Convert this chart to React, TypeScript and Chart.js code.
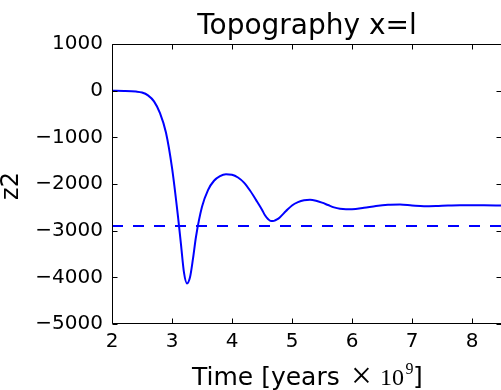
import React, { useEffect, useRef } from "react";
import { Chart, registerables } from "chart.js";

Chart.register(...registerables);

// Time axis (years × 10^9) and topography z2 values
const timeValues = [
  2.0, 2.2, 2.4, 2.5, 2.6, 2.7, 2.8, 2.9, 3.0, 3.1, 3.15, 3.2, 3.25, 3.3, 3.35,
  3.4, 3.5, 3.6, 3.7, 3.8, 3.9, 4.0, 4.1, 4.2, 4.3, 4.4, 4.5, 4.55, 4.6, 4.65,
  4.7, 4.75, 4.8, 4.9, 5.0, 5.1, 5.2, 5.3, 5.4, 5.5, 5.6, 5.7, 5.8, 5.9, 6.0,
  6.2, 6.4, 6.6, 6.8, 7.0, 7.2, 7.4, 7.6, 7.8, 8.0, 8.2, 8.5,
];
const z2Values = [
  0, -5, -20, -40, -100, -230, -480, -900, -1650, -2700, -3300, -3900, -4130,
  -4000, -3600, -3130, -2490, -2130, -1930, -1830, -1790, -1800, -1860, -1970,
  -2140, -2340, -2550, -2670, -2750, -2795, -2790, -2760, -2710, -2580, -2460,
  -2390, -2350, -2340, -2360, -2400, -2450, -2500, -2530, -2540, -2540, -2510,
  -2470, -2445, -2440, -2460, -2475, -2470, -2460, -2455, -2455, -2458, -2460,
];

// Reference level drawn as a dashed horizontal line
const referenceLevel = -2900;
const referenceSpan = [2.0, 8.5];

// Axis ranges and tick positions
const xRange = [2, 8.5];
const yRange = [-5000, 1000];
const xTicks = [2, 3, 4, 5, 6, 7, 8];
const yTicks = [1000, 0, -1000, -2000, -3000, -4000, -5000];

const titleText = "Topography x=l";
const yLabelText = "z2";

const SANS = "'DejaVu Sans', sans-serif";
const SERIF = "'Liberation Serif', 'DejaVu Serif', serif";

const fmt = (v: number) => (v < 0 ? "\u2212" + Math.abs(v) : String(v));

const framePlugin = {
  id: "frame",
  afterDraw(chart: any) {
    const { ctx, chartArea } = chart;
    const { left, right, top, bottom } = chartArea;
    const xs = chart.scales.x;
    const ys = chart.scales.y;
    ctx.save();
    ctx.strokeStyle = "#000";
    ctx.lineWidth = 1;
    const L = Math.round(left) + 0.5;
    const R = Math.round(right) - 0.5;
    const T = Math.round(top) + 0.5;
    const B = Math.round(bottom) - 0.5;
    ctx.beginPath();
    ctx.rect(L, T, R - L, B - T);
    ctx.stroke();

    // inward ticks on all four sides
    const tl = 5;
    ctx.beginPath();
    for (const v of xTicks) {
      const px = Math.round(xs.getPixelForValue(v)) + 0.5;
      ctx.moveTo(px, B);
      ctx.lineTo(px, B - tl);
      ctx.moveTo(px, T);
      ctx.lineTo(px, T + tl);
    }
    for (const v of yTicks) {
      const py = Math.round(ys.getPixelForValue(v)) + 0.5;
      ctx.moveTo(L, py);
      ctx.lineTo(L + tl, py);
      ctx.moveTo(R, py);
      ctx.lineTo(R - tl, py);
    }
    ctx.stroke();

    ctx.fillStyle = "#000";
    // title
    ctx.font = `28px ${SANS}`;
    ctx.textAlign = "center";
    ctx.textBaseline = "alphabetic";
    ctx.fillText(titleText, 307, 34);

    // x-axis label, with a math-style "× 10^9" part
    ctx.textAlign = "left";
    ctx.font = `25px ${SANS}`;
    ctx.fillText("Time [years", 192, 385);
    ctx.textAlign = "center";
    ctx.font = `37px ${SERIF}`;
    ctx.fillText("\u00d7", 361.5, 388);
    ctx.textAlign = "left";
    ctx.font = `24px ${SERIF}`;
    ctx.fillText("10", 380, 385);
    ctx.font = `16px ${SERIF}`;
    ctx.fillText("9", 405.5, 374);
    ctx.font = `25px ${SANS}`;
    ctx.fillText("]", 413, 385);

    // y-axis label
    ctx.save();
    ctx.translate(17.5, 186);
    ctx.rotate(-Math.PI / 2);
    ctx.font = `24px ${SANS}`;
    ctx.textAlign = "center";
    ctx.fillText(yLabelText, 0, 0);
    ctx.restore();

    ctx.restore();
  },
};

export default function App() {
  const ref = useRef<HTMLCanvasElement | null>(null);

  useEffect(() => {
    if (!ref.current) return;
    const chart = new Chart(ref.current, {
      type: "line",
      data: {
        datasets: [
          {
            data: timeValues.map((t, i) => ({ x: t, y: z2Values[i] })),
            borderColor: "#0000ff",
            borderWidth: 2,
            pointRadius: 0,
            cubicInterpolationMode: "monotone",
            fill: false,
          },
          {
            data: referenceSpan.map((t) => ({ x: t, y: referenceLevel })),
            borderColor: "#0000ff",
            borderWidth: 2,
            borderDash: [11, 10],
            pointRadius: 0,
            fill: false,
          },
        ],
      },
      options: {
        responsive: false,
        animation: false,
        layout: { padding: { top: 44, right: 2, left: 0, bottom: 0 } },
        plugins: {
          legend: { display: false },
          title: { display: false },
          tooltip: { enabled: false },
        },
        scales: {
          x: {
            type: "linear",
            min: xRange[0],
            max: xRange[1],
            grid: { display: false, drawTicks: false },
            border: { display: false },
            afterBuildTicks: (s: any) => {
              s.ticks = xTicks.map((v) => ({ value: v }));
            },
            afterFit: (s: any) => {
              s.height = 66;
            },
            ticks: {
              padding: 6,
              maxRotation: 0,
              color: "#000",
              font: { family: SANS, size: 20 },
              callback: (v: any) => fmt(Number(v)),
            },
          },
          y: {
            type: "linear",
            min: yRange[0],
            max: yRange[1],
            grid: { display: false, drawTicks: false },
            border: { display: false },
            afterBuildTicks: (s: any) => {
              s.ticks = yTicks.map((v) => ({ value: v }));
            },
            afterFit: (s: any) => {
              s.width = 112;
            },
            ticks: {
              padding: 9,
              color: "#000",
              font: { family: SANS, size: 20 },
              callback: (v: any) => fmt(Number(v)),
            },
          },
        },
      },
      plugins: [framePlugin],
    });
    return () => chart.destroy();
  }, []);

  return (
    <div
      style={{
        position: "fixed",
        left: 0,
        top: 0,
        width: 501,
        height: 390,
        overflow: "hidden",
        background: "#fff",
      }}
    >
      <canvas ref={ref} width={504} height={390} style={{ display: "block", width: 504, height: 390 }} />
    </div>
  );
}
